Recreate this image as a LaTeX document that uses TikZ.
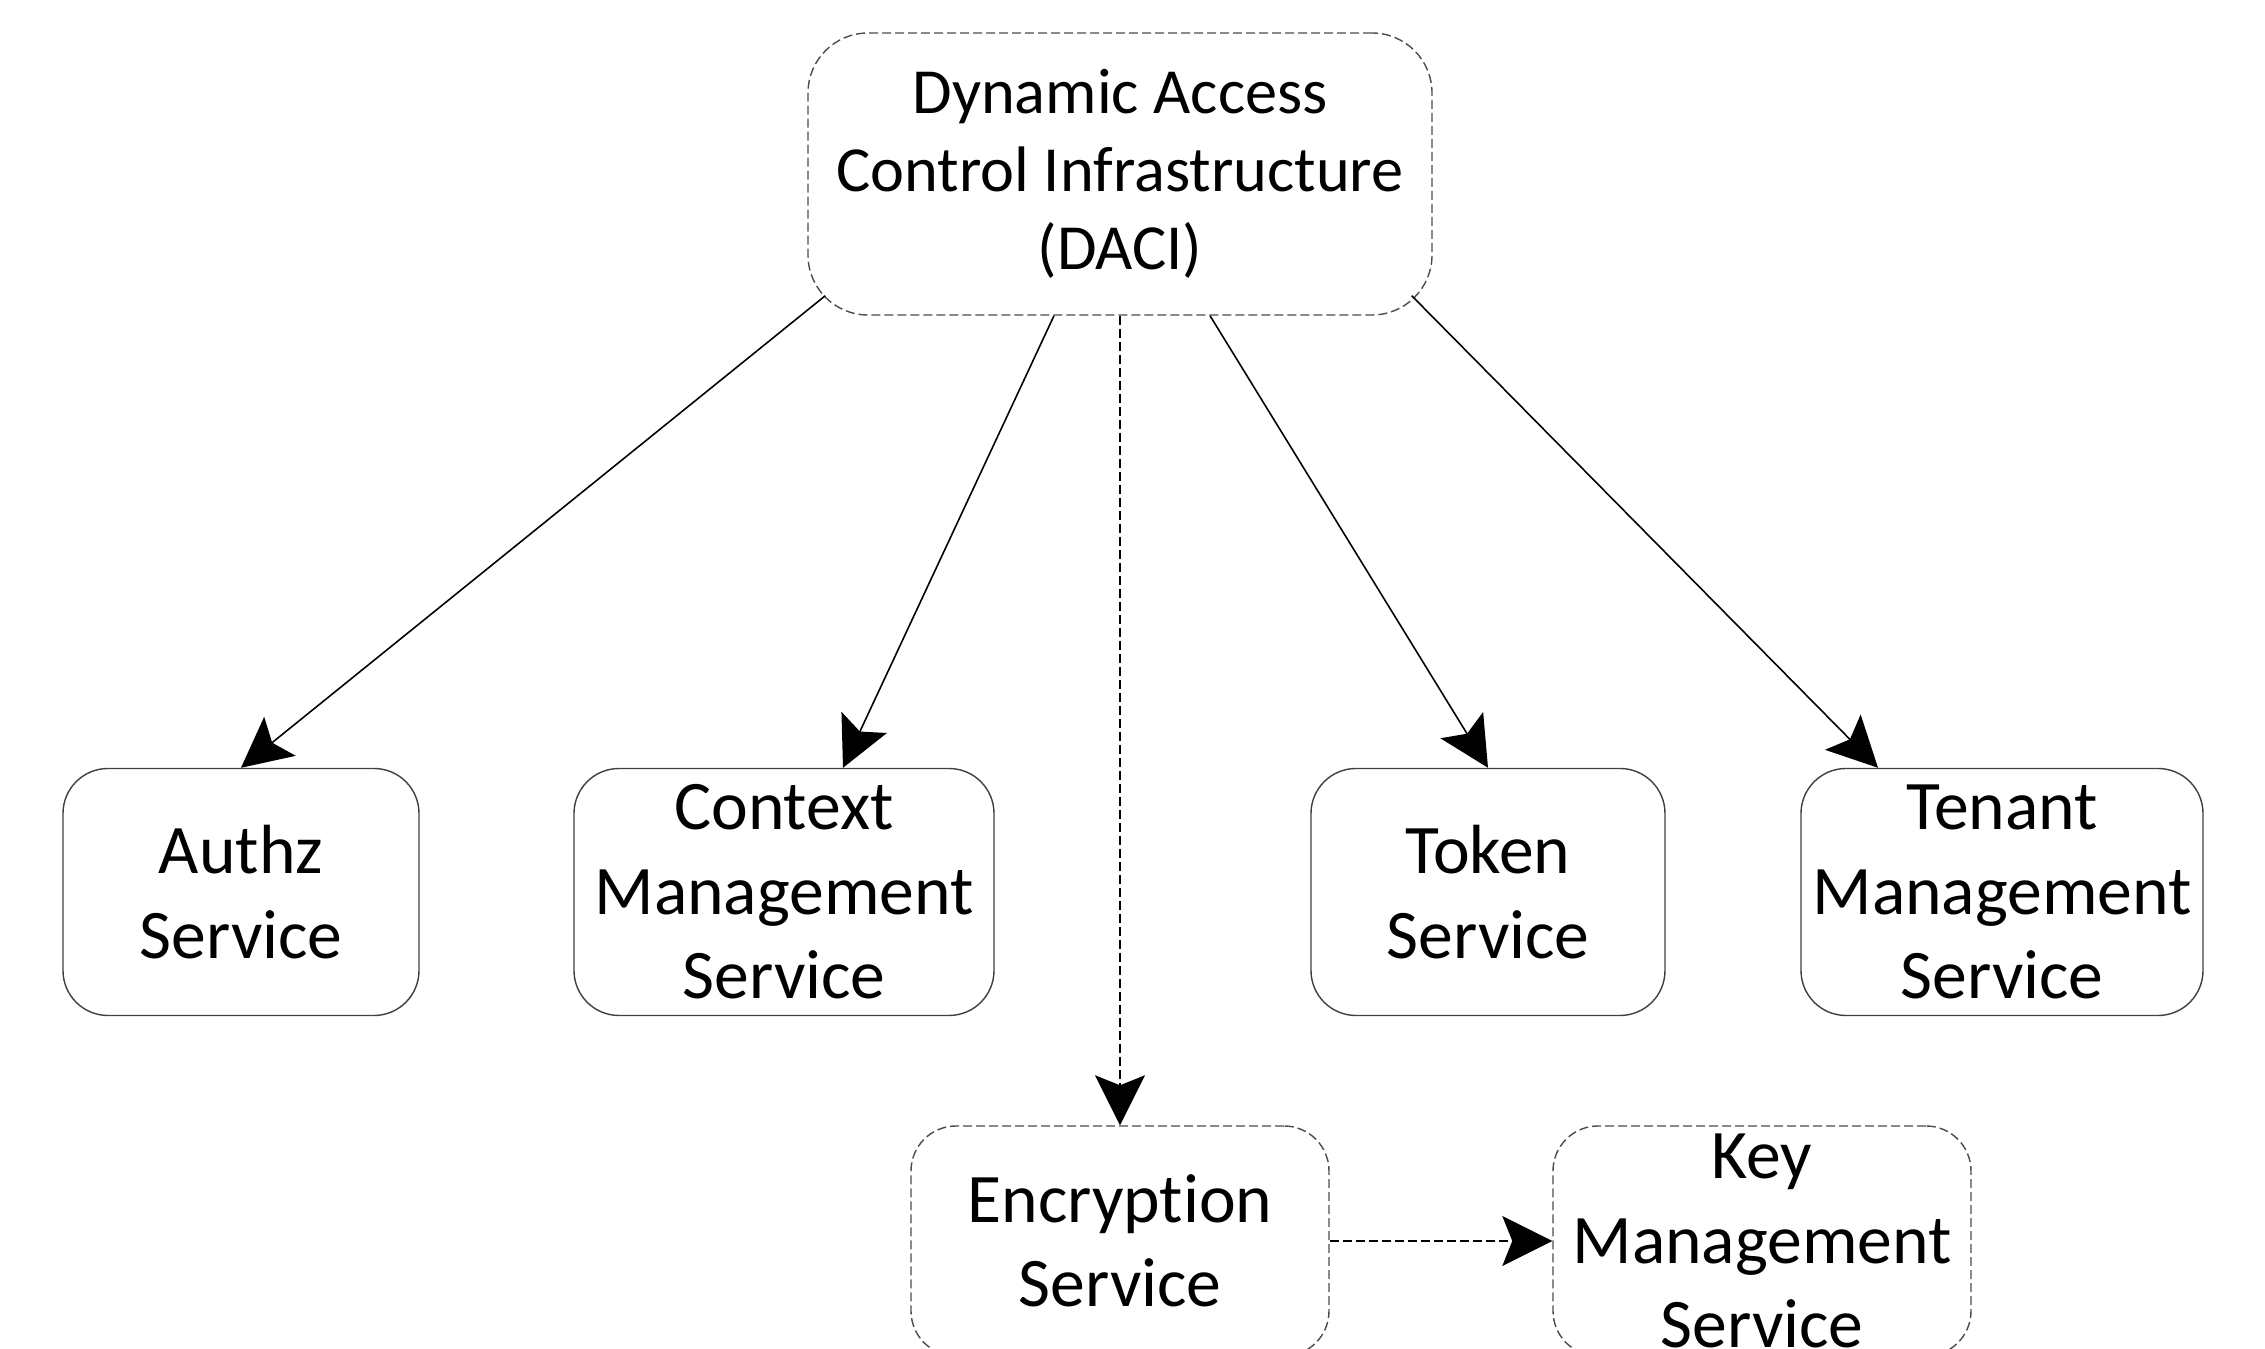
\documentclass[tikz,border=0pt]{standalone}
\usepackage{fontspec}
\setmainfont{Carlito}[Ligatures={NoCommon,NoContextual}]
\usetikzlibrary{arrows.meta}

\begin{document}
\begin{tikzpicture}[
    box/.style={draw=black!75, rounded corners=0.45cm, align=center, inner sep=0pt,
        minimum height=2.47cm, font=\fontsize{19.8}{24}\selectfont},
    dbox/.style={box, draw=black!70, dash pattern=on 0.09cm off 0.04cm},
    link/.style={-{Stealth[length=0.5cm, width=0.5cm, inset=0.1cm]}, line width=0.45pt},
    dlink/.style={link, dash pattern=on 0.09cm off 0.04cm}]
    \useasboundingbox (0,0) rectangle (22.65,-13.49);

    \node[dbox, minimum width=6.24cm, minimum height=2.82cm, rounded corners=0.6cm,
        font=\fontsize{18.3}{22.2}\selectfont] (daci) at (11.20,-1.74)
        {Dynamic Access\\Control Infrastructure\\(DACI)};

    \node[box, minimum width=3.56cm] (authz) at (2.41,-8.92) {Authz\\Service};
    \node[box, minimum width=4.20cm] (context) at (7.84,-8.92) {Context\\Management\\Service};
    \node[box, minimum width=3.54cm] (token) at (14.88,-8.92) {Token\\Service};
    \node[box, minimum width=4.02cm] (tenant) at (20.02,-8.92) {Tenant\\Management\\Service};

    \node[dbox, minimum width=4.18cm, minimum height=2.3cm] (enc) at (11.20,-12.41) {Encryption\\Service};
    \node[dbox, minimum width=4.18cm, minimum height=2.3cm] (key) at (17.62,-12.41) {Key\\Management\\Service};

    \draw[link] ([shift={(0.18,0.20)}]daci.south west) -- (authz.north);
    \draw[link] ([xshift=-0.66cm]daci.south) -- ([xshift=0.59cm]context.north);
    \draw[link] ([xshift=0.90cm]daci.south) -- (token.north);
    \draw[link] ([shift={(-0.21,0.20)}]daci.south east) -- ([xshift=-1.24cm]tenant.north);

    \draw[dlink] (daci.south) -- (enc.north);
    \draw[dlink] (enc.east) -- (key.west);
\end{tikzpicture}
\end{document}
